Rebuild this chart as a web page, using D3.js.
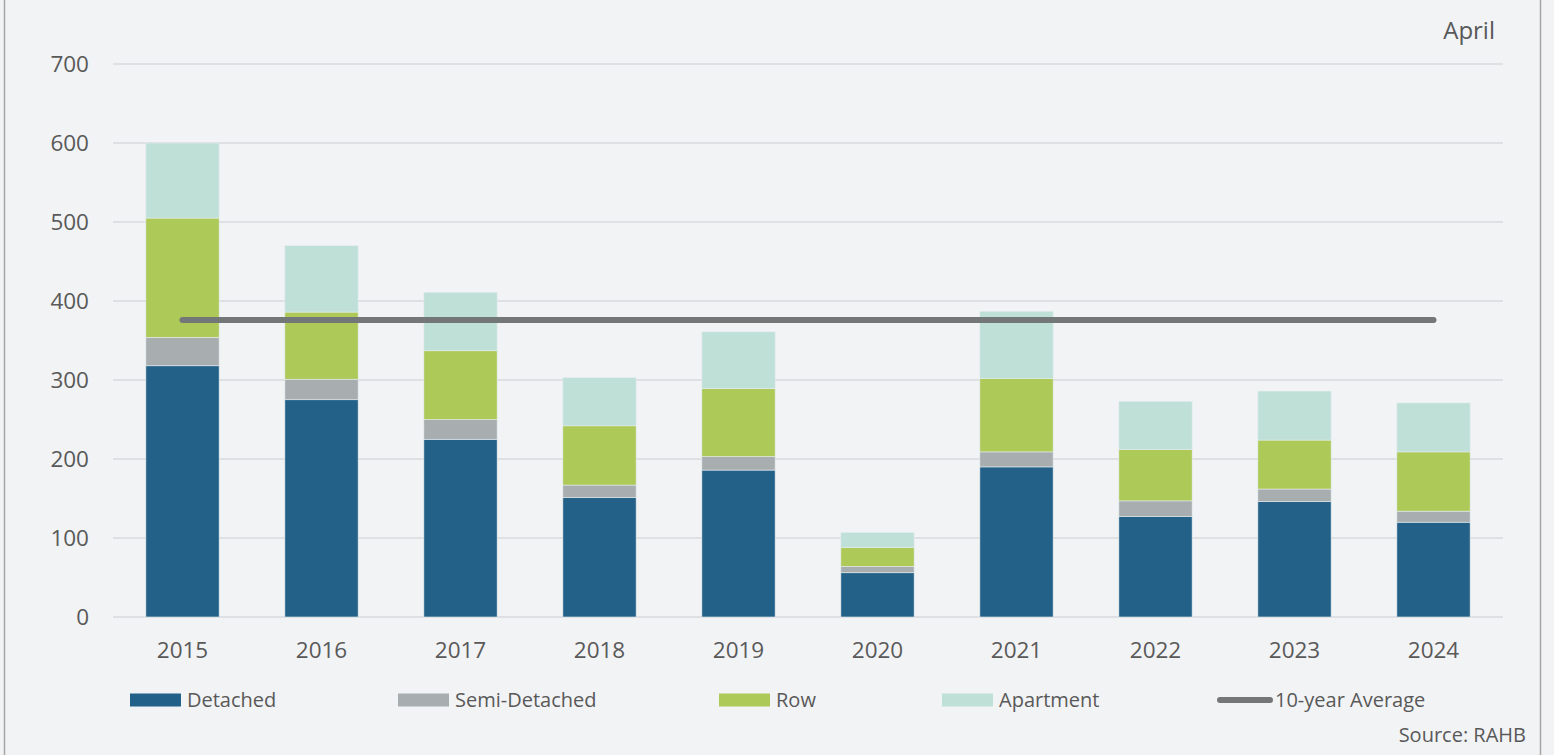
<!DOCTYPE html>
<html>
<head>
<meta charset="utf-8">
<script src="https://cdn.jsdelivr.net/npm/d3@7"></script>
<style>
  html, body { margin: 0; padding: 0; background: #f2f3f5; }
  svg { display: block; }
  text { font-family: "Open Sans", "Noto Sans", sans-serif; fill: #595959; }
</style>
</head>
<body>
<svg id="chart" width="1554" height="755"></svg>
<script>
const years = ["2015","2016","2017","2018","2019","2020","2021","2022","2023","2024"];
const detached     = [318, 275, 225, 151, 186, 56, 190, 127, 146, 120];
const semiDetached = [36, 26, 25, 16, 17, 8, 19, 20, 16, 14];
const row          = [151, 85, 87, 75, 86, 24, 93, 65, 62, 75];
const apartment    = [95, 84, 74, 61, 72, 19, 85, 61, 62, 62];
const tenYearAverage = 376;
const yTicks = [0, 100, 200, 300, 400, 500, 600, 700];
const seriesNames = ["Detached", "Semi-Detached", "Row", "Apartment"];
const avgLabel = "10-year Average";
const periodLabel = "April";
const sourceLabel = "Source: RAHB";

const colors = ["#236189", "#a8adb0", "#adc957", "#bfe0d6"];

const svg = d3.select("#chart");
const W = 1554, H = 755;
const plotLeft = 113, plotRight = 1503, plotTop = 64, plotBottom = 617;

svg.append("rect").attr("width", W).attr("height", H).attr("fill", "#f2f3f5");
// frame lines
svg.append("line").attr("x1", 4.5).attr("x2", 4.5).attr("y1", 0).attr("y2", H)
  .attr("stroke", "#a6a6a6").attr("stroke-width", 1.5);
svg.append("line").attr("x1", 1540.5).attr("x2", 1540.5).attr("y1", 0).attr("y2", H)
  .attr("stroke", "#a6a6a6").attr("stroke-width", 1.5);

const x = d3.scaleBand().domain(years).range([plotLeft, plotRight]).paddingInner(0.473).paddingOuter(0.2365);
const y = d3.scaleLinear().domain([0, 700]).range([plotBottom, plotTop]);

// gridlines
svg.append("g").selectAll("line").data(yTicks).join("line")
  .attr("x1", plotLeft).attr("x2", plotRight)
  .attr("y1", d => y(d)).attr("y2", d => y(d))
  .attr("stroke", "#d9dadd").attr("stroke-width", 1.5);

// y axis labels
const yAxis = d3.axisLeft(y).tickValues(yTicks).tickSize(0).tickPadding(0);
const gy = svg.append("g").attr("transform", "translate(89,0)").call(yAxis);
gy.select(".domain").remove();
gy.selectAll("text").style("font-size", "22.5px").attr("fill", "#595959")
  .attr("font-family", "'Open Sans', sans-serif");

// stacked data
const table = years.map((yr, i) => ({
  year: yr,
  "Detached": detached[i],
  "Semi-Detached": semiDetached[i],
  "Row": row[i],
  "Apartment": apartment[i]
}));
const stack = d3.stack().keys(seriesNames)(table);

svg.append("g").selectAll("g").data(stack).join("g")
  .attr("fill", (d, i) => colors[i])
  .selectAll("rect").data(d => d).join("rect")
  .attr("x", d => x(d.data.year))
  .attr("width", x.bandwidth())
  .attr("y", d => y(d[1]))
  .attr("height", d => y(d[0]) - y(d[1]))
  .attr("stroke", "#e4ecee").attr("stroke-width", 0.6);

// x axis labels
const xAxis = d3.axisBottom(x).tickSize(0).tickPadding(0);
const gx = svg.append("g").attr("transform", `translate(0,${plotBottom + 25})`).call(xAxis);
gx.select(".domain").remove();
gx.selectAll("text").style("font-size", "22.5px").attr("fill", "#595959")
  .attr("font-family", "'Open Sans', sans-serif");

// 10-year average line
svg.append("line")
  .attr("x1", x(years[0]) + x.bandwidth() / 2)
  .attr("x2", x(years[years.length - 1]) + x.bandwidth() / 2)
  .attr("y1", y(tenYearAverage)).attr("y2", y(tenYearAverage))
  .attr("stroke", "#737778").attr("stroke-width", 6).attr("stroke-linecap", "round");

// period label
svg.append("text").attr("x", 1495).attr("y", 39).attr("text-anchor", "end")
  .style("font-size", "24px").text(periodLabel);

// legend
const legendY = 700;
const legendFont = "20px";
const legendItems = [
  { name: seriesNames[0], sx: 130, color: colors[0] },
  { name: seriesNames[1], sx: 398, color: colors[1] },
  { name: seriesNames[2], sx: 719, color: colors[2] },
  { name: seriesNames[3], sx: 942, color: colors[3] }
];
const lg = svg.append("g");
legendItems.forEach(it => {
  lg.append("rect").attr("x", it.sx).attr("y", legendY - 6.5).attr("width", 51).attr("height", 13)
    .attr("fill", it.color);
  lg.append("text").attr("x", it.sx + 57).attr("y", legendY).attr("dy", "0.35em")
    .style("font-size", legendFont)
    .text(it.name);
});
lg.append("line").attr("x1", 1220).attr("x2", 1270).attr("y1", legendY).attr("y2", legendY)
  .attr("stroke", "#737778").attr("stroke-width", 6).attr("stroke-linecap", "round");
lg.append("text").attr("x", 1275).attr("y", legendY).attr("dy", "0.35em")
  .style("font-size", legendFont)
  .text(avgLabel);

svg.append("text").attr("x", 1526).attr("y", 735).attr("dy", "0.35em").attr("text-anchor", "end")
  .style("font-size", legendFont)
  .text(sourceLabel);
</script>
</body>
</html>
